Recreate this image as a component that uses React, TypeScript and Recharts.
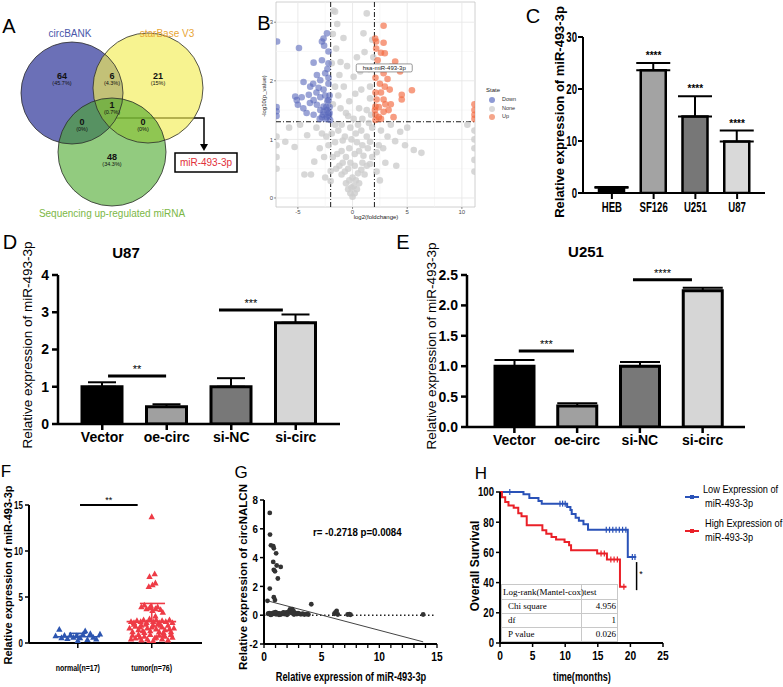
import React from 'react';
import {
  ComposedChart, Scatter, Bar, Line, XAxis, YAxis, ErrorBar, Cell,
  ReferenceLine, ReferenceArea, LabelList,
} from 'recharts';

const SANS = "'Liberation Sans', Arial, Helvetica, sans-serif";
const SERIF = "'Liberation Serif', 'Times New Roman', serif";

// ---------------- DATA ----------------
// A: Venn
const vennSetNames = ['circBANK', 'starBase V3', 'Sequencing up-regulated miRNA'];
const vennRegionCounts = [64, 6, 21, 1, 0, 0, 48];
const vennRegionPercents = ['(45.7%)', '(4.3%)', '(15%)', '(0.7%)', '(0%)', '(0%)', '(34.3%)'];
const vennTarget = 'miR-493-3p';

// B: volcano (log2 fold change, -log10 p)
const volDown: [number, number][] = [
  [-2.34, 2.81], [-2.65, 2.72], [-2.8, 2.67], [-2.6, 2.6], [-2.2, 2.5], [-4.9, 2.56], [-6.9, 2.67],
  [-3.56, 2.31], [-2.8, 2.35], [-2.2, 2.3], [-4.48, 1.98], [-3.26, 2.1], [-2.95, 2.01], [-2.5, 2.13],
  [-2.2, 2.05], [-3.87, 1.9], [-3.1, 1.88], [-2.65, 1.85], [-2.2, 1.95], [-5.24, 1.73], [-5.1, 1.67],
  [-4.65, 1.72], [-4.0, 1.76], [-3.56, 1.67], [-2.95, 1.72], [-2.5, 1.75], [-2.2, 1.67], [-5.0, 1.59],
  [-4.5, 1.53], [-3.26, 1.59], [-2.65, 1.56], [-2.35, 1.5], [-3.56, 1.42], [-2.95, 1.5], [-2.65, 1.47],
  [-2.2, 1.45], [-2.8, 1.38], [-2.35, 1.38], [-2.05, 1.33], [-4.2, 1.45], [-3.9, 1.62], [-3.3, 1.8],
  [-2.4, 1.55], [-2.15, 1.4], [-2.7, 1.42], [-2.45, 1.35], [-6.95, 1.55], [-6.95, 1.48], [-6.95, 1.4],
  [-3.0, 1.35], [-3.6, 1.95], [-2.3, 2.2], [-2.1, 1.75], [-2.1, 1.55], [-2.3, 1.65], [-2.1, 1.45],
];
const volUp: [number, number][] = [
  [2.84, 2.94], [2.07, 2.72], [2.16, 2.67], [2.84, 2.65], [2.16, 2.55], [2.6, 2.48], [2.95, 2.47],
  [3.9, 2.33], [3.5, 2.24], [4.35, 2.16], [2.84, 2.13], [2.1, 2.05], [3.2, 2.03], [2.5, 1.95],
  [2.95, 1.9], [5.43, 1.84], [4.5, 1.76], [4.5, 1.68], [2.1, 1.8], [2.84, 1.68], [2.2, 1.68],
  [2.1, 1.56], [3.5, 1.6], [2.4, 1.55], [3.3, 1.5], [2.84, 1.47], [2.1, 1.42], [2.4, 1.38],
  [3.75, 1.38], [2.1, 1.33], [2.05, 1.5], [2.6, 1.35], [3.0, 1.6], [3.4, 1.85], [11.15, 1.6],
  [11.15, 1.5], [11.15, 1.42], [11.15, 1.35], [2.3, 2.35], [2.6, 1.8],
];
const volNone: [number, number][] = [
  [0, 0.02], [-0.2, 0.08], [0.2, 0.08], [-0.4, 0.15], [0.4, 0.15], [-0.1, 0.18], [0.1, 0.2],
  [-0.6, 0.25], [0.6, 0.25], [-0.3, 0.3], [0.3, 0.3], [0, 0.35], [-1.0, 0.4], [-0.7, 0.45],
  [-0.4, 0.5], [0.5, 0.42], [0.8, 0.48], [1.1, 0.4], [-1.2, 0.55], [1.3, 0.55], [0.2, 0.55],
  [-0.2, 0.6], [-0.9, 0.6], [0.9, 0.6], [1.6, 0.58], [-1.5, 0.5], [-1.8, 0.7], [-1.4, 0.75],
  [-1.0, 0.8], [-0.6, 0.7], [-0.3, 0.85], [0.2, 0.75], [0.6, 0.8], [1.0, 0.72], [1.4, 0.85],
  [1.8, 0.7], [2.2, 0.78], [-2.2, 0.9], [-1.6, 0.95], [-0.9, 0.98], [0.4, 0.95], [0.9, 0.9],
  [1.6, 0.96], [2.4, 0.9], [-0.1, 1.0], [2.8, 0.85], [-2.4, 1.05], [-1.9, 1.1], [-1.3, 1.15],
  [-0.7, 1.05], [-0.2, 1.2], [0.3, 1.1], [0.8, 1.15], [1.3, 1.05], [1.8, 1.2], [-1.0, 1.25],
  [1.5, 1.28], [-1.6, 1.25], [0.5, 1.25], [2.6, 1.15], [3.2, 1.05], [-2.8, 1.1], [-6.15, 0.96],
  [-5.3, 0.87], [-4.15, 1.07], [-3.5, 0.62], [-4.4, 0.4], [-3.8, 0.4], [-2.0, 0.46], [-2.0, 0.29],
  [-3.0, 0.85], [-2.6, 0.7], [-3.3, 1.2], [-4.8, 1.25], [-5.8, 1.2], [4.36, 1.13], [5.6, 0.82],
  [6.3, 0.77], [3.9, 0.97], [3.0, 0.6], [4.0, 0.55], [4.8, 0.9], [3.5, 1.25], [5.0, 1.2],
  [2.2, 0.45], [2.5, 0.3], [-2.5, 0.35], [-6.95, 0.5], [-6.95, 0.7], [-6.95, 0.9], [-6.95, 1.05],
  [11.15, 0.45], [11.15, 0.65], [11.15, 0.85], [11.15, 1.0], [11.15, 1.15], [10.5, 1.25],
  [-1.74, 3.2], [-1.6, 3.18], [1.3, 3.15], [-1.4, 2.97], [-0.83, 2.73], [1.0, 2.81], [1.1, 2.49],
  [-1.5, 2.55], [-1.1, 2.32], [0.1, 2.07], [0.7, 2.16], [-0.8, 1.9], [0.25, 1.78], [-1.6, 1.9],
  [0.6, 1.53], [-1.1, 1.53], [1.3, 1.5], [-0.4, 1.4], [0.9, 1.35], [1.7, 1.42], [-1.8, 1.6],
  [1.6, 1.9], [-0.3, 1.65], [1.5, 2.2], [-1.2, 2.1], [0.4, 2.4], [-0.5, 2.25], [1.8, 2.7],
  [-1.8, 2.8], [1.6, 1.7], [-1.3, 1.75], [0.8, 1.85], [-0.6, 1.45], [0.1, 1.35], [1.9, 2.4],
  [-1.9, 2.3],
];
const volStates = ['Down', 'None', 'Up'];
const volHighlight = { name: 'hsa-miR-493-3p', x: 2.9, y: 2.22 };

// C: cell lines
const cCats = ['HEB', 'SF126', 'U251', 'U87'];
const cMeans = [1.0, 23.6, 14.7, 9.9];
const cErrs = [0.15, 1.4, 3.9, 2.1];
const cStars = ['', '****', '****', '****'];

// D: U87
const dCats = ['Vector', 'oe-circ', 'si-NC', 'si-circ'];
const dMeans = [1.0, 0.46, 1.0, 2.72];
const dErrs = [0.12, 0.07, 0.23, 0.22];
const dSigFrom = [0.59, 2.31];
const dSigTo = [1.49, 3.3];
const dSigY = [1.29, 3.06];
const dSigText = ['**', '***'];

// E: U251
const eCats = ['Vector', 'oe-circ', 'si-NC', 'si-circ'];
const eMeans = [1.0, 0.345, 1.0, 2.24];
const eErrs = [0.1, 0.045, 0.07, 0.05];
const eSigFrom = [0.57, 2.39];
const eSigTo = [1.45, 3.33];
const eSigY = [1.25, 2.42];
const eSigText = ['***', '****'];

// F: tissues
const fCats = ['normal(n=17)', 'tumor(n=76)'];
const fNormal: [number, number][] = [
  [0.70, 0.75], [0.75, 1.45], [0.78, 0.55], [0.82, 0.8], [0.86, 0.45], [0.90, 0.85], [0.94, 0.6],
  [0.98, 0.75], [1.00, 0.25], [1.03, 0.55], [1.07, 0.9], [1.10, 1.3], [1.13, 0.35], [1.17, 1.0],
  [1.21, 0.6], [1.25, 0.4], [1.30, 0.95],
];
const fTumor: [number, number][] = [
  [2.00, 13.7], [2.04, 7.5], [1.97, 7.2], [1.96, 6.1], [2.01, 6.3], [2.05, 6.5],
  [1.86, 3.9], [1.90, 4.1], [1.93, 3.7], [1.97, 3.8], [2.01, 3.5], [2.05, 3.7], [2.08, 3.9], [2.12, 3.6], [1.99, 4.0], [2.15, 3.3],
  [1.72, 2.3], [1.76, 2.2], [1.80, 2.4], [1.85, 2.3], [1.89, 2.5], [1.93, 2.2], [1.97, 2.6], [2.02, 2.3],
  [2.06, 2.5], [2.10, 2.2], [2.14, 2.4], [2.19, 2.3], [2.24, 2.5], [2.28, 2.2], [2.05, 2.9],
  [1.70, 1.6], [1.74, 1.2], [1.78, 1.8], [1.82, 1.4], [1.86, 1.9], [1.90, 1.1], [1.94, 1.6], [1.98, 1.3],
  [2.02, 1.9], [2.06, 1.5], [2.10, 1.2], [2.14, 1.7], [2.18, 1.4], [2.22, 1.9], [2.26, 1.2], [2.30, 1.6],
  [1.76, 2.0], [1.84, 1.7], [1.92, 2.0], [2.00, 1.7], [2.08, 2.0], [2.16, 1.1], [2.24, 1.5], [1.88, 1.3], [2.12, 1.9],
  [1.74, 0.8], [1.78, 0.5], [1.82, 0.9], [1.86, 0.3], [1.90, 0.7], [1.94, 0.4], [1.98, 0.9], [2.02, 0.2],
  [2.06, 0.6], [2.10, 0.8], [2.14, 0.4], [2.18, 0.7], [2.22, 0.3], [2.26, 0.9], [1.96, 0.1], [2.04, 0.5],
  [1.84, 0.6], [2.16, 0.9], [2.28, 0.6], [1.72, 0.4],
];
const fMean = [0.68, 2.32];
const fSD = [1.05, 4.3];

// G: correlation
const gPoints: [number, number][] = [
  [0.5, 7.1], [0.52, 5.6], [0.6, 4.85], [0.8, 4.8], [0.85, 4.65], [1.05, 4.3], [0.8, 3.7], [1.1, 3.45],
  [1.45, 3.35], [0.85, 3.15], [0.95, 3.05], [1.2, 2.55], [0.5, 1.85], [0.3, 1.0], [0.85, 1.25],
  [0.95, 1.05], [4.1, 0.76],
  [0.35, 0.1], [0.45, 0.15], [0.55, 0.05], [0.65, 0.12], [0.75, 0.08], [0.85, 0.18], [0.95, 0.1],
  [1.05, 0.06], [1.15, 0.14], [1.25, 0.09], [1.35, 0.12], [1.45, 0.05], [1.55, 0.1], [1.65, 0.16],
  [1.75, 0.08], [1.85, 0.12], [1.95, 0.2], [2.05, 0.1], [2.15, 0.25], [2.25, 0.4], [2.35, 0.35],
  [2.45, 0.42], [2.55, 0.3], [2.65, 0.18], [2.75, 0.12], [2.85, 0.08], [2.95, 0.15], [3.05, 0.1],
  [3.2, 0.06], [3.35, 0.1], [3.5, 0.05], [3.7, 0.08], [3.85, 0.05], [0.6, 0.02], [1.0, 0.22],
  [1.3, 0.03], [1.7, 0.2], [2.0, 0.03], [2.4, 0.15], [2.6, 0.05], [6.1, 0.1], [6.2, 0.2], [6.3, 0.3],
  [6.4, 0.05], [7.25, 0.05], [7.4, 0.08], [7.5, 0.03], [13.8, 0.05],
];
const gFit: [number, number][] = [[0.3, 1.0], [13.8, -1.85]];
const gStat = 'r= -0.2718  p=0.0084';

// H: survival
const hLowT = [0, 3.6, 4.5, 5.9, 6.4, 10.3, 10.8, 11.0, 11.6, 12.1, 12.8, 13.5, 19.6, 20.9];
const hLowV = [100, 98.5, 96, 94, 92.3, 90, 88, 85.5, 83, 81, 78.7, 75, 57, 57];
const hHighT = [0, 0.3, 0.8, 1.3, 2.1, 2.8, 3.3, 4.1, 6.5, 7.1, 7.9, 8.6, 9.9, 10.6, 10.9, 14.9, 16.4, 18.4, 19.4];
const hHighV = [100, 96.6, 93.4, 91, 89.5, 86, 84, 78, 74.6, 72.4, 70.2, 68.5, 66.9, 64.7, 61.5, 59.3, 55.3, 37.3, 37.3];
const hLowCensT = [1.5, 9.2, 9.6, 10.0, 16.3, 16.8, 17.3, 17.8, 18.3, 18.8, 19.3, 20.3, 20.7];
const hLowCensV = [100, 92.3, 92.3, 92.3, 75, 75, 75, 75, 75, 75, 75, 57, 57];
const hHighCensT = [15.5, 16.0, 17.0, 17.5, 18.0, 19.0];
const hHighCensV = [59.3, 59.3, 55.3, 55.3, 55.3, 37.3];
const hLegend = ['Low Expression of', 'High Expression of'];
const hTable: [string, string][] = [['Chi square', '4.956'], ['df', '1'], ['P value', '0.026']];

// ---------------- LAYOUT ----------------
const PL = 60, PT = 30, PR = 30, PB = 50;
type Box = [number, number, number, number];
function frame(b: Box) {
  const [x0, y0, x1, y1] = b;
  return {
    pos: { position: 'absolute' as const, left: x0 - PL, top: y0 - PT },
    width: x1 - x0 + PL + PR,
    height: y1 - y0 + PT + PB,
    margin: { top: PT, right: PR, bottom: 0, left: 0 },
  };
}
const B_BOX: Box = [276, 2, 475, 207];
const C_BOX: Box = [583, 37, 765, 193];
const D_BOX: Box = [58, 275, 340, 424];
const E_BOX: Box = [467, 275, 745, 427];
const F_BOX: Box = [29, 505, 202, 643];
const G_BOX: Box = [264, 500, 437, 644];
const H_BOX: Box = [500, 492, 663, 643];

const VENN_CX = [72, 148, 112];
const VENN_CY = [93, 88, 152];
const VENN_R = [51, 55, 54];
const VENN_FILL = ['#6b70b7', '#f2ec55', '#49a82a'];
const VENN_OP = [1, 0.65, 0.6];
const VENN_NAME_POS: [number, number][] = [[70, 33], [167, 33], [112, 213]];
const VENN_NAME_COLOR = ['#4b57aa', '#e8a535', '#7cb746'];
const VENN_REGION_POS: [number, number][] = [[62, 80], [112, 80], [158, 80], [112, 109], [82, 126], [143, 126], [112, 161]];

function Txt({ x, y, s, size = 12, w = 400, c = '#000', rot = 0, fam = SANS, a = 'middle', sx = 1 }: any) {
  const tx = a === 'middle' ? '-50%' : a === 'end' ? '-100%' : '0';
  const origin = a === 'middle' ? 'center' : a === 'end' ? 'right center' : 'left center';
  return (
    <div style={{
      position: 'absolute', left: x, top: y, transform: `translate(${tx},-50%) rotate(${rot}deg) scaleX(${sx})`,
      transformOrigin: origin,
      whiteSpace: 'nowrap', fontSize: size, fontWeight: w, color: c, fontFamily: fam, lineHeight: 1,
    }}>{s}</div>
  );
}

// condensed tick label renderer (GraphPad-like narrow bold)
function narrowTick(axis: 'x' | 'y', size: number, sx: number, fmt?: (v: any) => string) {
  return (p: any) => {
    const v = p.payload.value;
    const label = fmt ? fmt(v) : String(v);
    return (
      <g transform={`translate(${p.x},${p.y}) scale(${sx},1)`}>
        <text x={0} y={0} dy={axis === 'x' ? '0.75em' : '0.36em'} textAnchor={axis === 'x' ? 'middle' : 'end'}
          fontSize={size} fontWeight={700} fontFamily={SANS} fill="#000">{label}</text>
      </g>
    );
  };
}

// ---------------- A ----------------
function VennPanel() {
  const circles = vennSetNames.map((n, i) => ({ x: VENN_CX[i], y: VENN_CY[i], r: VENN_R[i], fill: VENN_FILL[i], op: VENN_OP[i] }));
  const regions = vennRegionCounts.map((c, i) => ({ x: VENN_REGION_POS[i][0], y: VENN_REGION_POS[i][1], c, p: vennRegionPercents[i] }));
  const names = vennSetNames.map((n, i) => ({ x: VENN_NAME_POS[i][0], y: VENN_NAME_POS[i][1], n, col: VENN_NAME_COLOR[i] }));
  const arrow = [{ x: 114, y: 118 }, { x: 204, y: 118 }, { x: 204, y: 146 }];
  return (
    <div style={{ position: 'absolute', left: 0, top: 0 }}>
      <ComposedChart width={260} height={225} margin={{ top: 0, right: 0, bottom: 0, left: 0 }}>
        <XAxis type="number" dataKey="x" domain={[0, 260]} hide />
        <YAxis type="number" dataKey="y" domain={[0, 225]} reversed hide />
        <Scatter data={circles} isAnimationActive={false}
          shape={(p: any) => <circle cx={p.cx} cy={p.cy} r={p.payload.r} fill={p.payload.fill} fillOpacity={p.payload.op} />} />
        <Scatter data={circles} isAnimationActive={false}
          shape={(p: any) => <circle cx={p.cx} cy={p.cy} r={p.payload.r} fill="none" stroke="#2b2b2b" strokeWidth={0.8} />} />
        <Scatter data={regions} isAnimationActive={false}
          shape={(p: any) => (
            <g>
              <text x={p.cx} y={p.cy - 1} textAnchor="middle" fontSize={9} fontWeight={700} fontFamily={SANS} fill="#111">{p.payload.c}</text>
              <text x={p.cx} y={p.cy + 5} textAnchor="middle" fontSize={5.5} fontFamily={SANS} fill="#111">{p.payload.p}</text>
            </g>
          )} />
        <Scatter data={names} isAnimationActive={false}
          shape={(p: any) => <text x={p.cx} y={p.cy + 4} textAnchor="middle" fontSize={10} fontFamily={SANS} fill={p.payload.col}>{p.payload.n}</text>} />
        <Line data={arrow} dataKey="y" type="linear" stroke="#000" strokeWidth={1.5} dot={false} isAnimationActive={false} />
        <Scatter data={[{ x: 204, y: 150 }]} isAnimationActive={false}
          shape={(p: any) => <path d={`M${p.cx - 4},${p.cy - 6} L${p.cx + 4},${p.cy - 6} L${p.cx},${p.cy + 1} Z`} fill="#000" />} />
        <Scatter data={[{ x: 206, y: 162.5, t: vennTarget }]} isAnimationActive={false}
          shape={(p: any) => (
            <g>
              <rect x={p.cx - 31} y={p.cy - 9.5} width={62} height={19} fill="#fff" stroke="#000" strokeWidth={1.5} />
              <text x={p.cx} y={p.cy + 3.5} textAnchor="middle" fontSize={10} fontFamily={SANS} fill="#e2303a">{p.payload.t}</text>
            </g>
          )} />
      </ComposedChart>
    </div>
  );
}

// ---------------- B ----------------
function VolcanoPanel() {
  const f = frame(B_BOX);
  const pts = (a: [number, number][]) => a.map(([x, y]) => ({ x, y }));
  const dot = (fill: string, op: number) => (p: any) => <circle cx={p.cx} cy={p.cy} r={3.3} fill={fill} fillOpacity={op} />;
  const dash = '5 2 1 2';
  return (
    <>
      <div style={f.pos}>
        <ComposedChart width={f.width} height={f.height} margin={f.margin}>
          <XAxis type="number" dataKey="x" domain={[-7.0, 11.2]} ticks={[-5, 0, 5, 10]} height={PB} allowDataOverflow
            axisLine={false} tickLine={{ stroke: '#444', strokeWidth: 0.6 }} tickSize={2} tickMargin={1}
            tick={{ fontSize: 6, fill: '#4d4d4d', fontFamily: SANS }} />
          <YAxis type="number" dataKey="y" domain={[-0.154, 3.345]} ticks={[0, 1, 2, 3]} width={PL} allowDataOverflow
            axisLine={false} tickLine={{ stroke: '#444', strokeWidth: 0.6 }} tickSize={2} tickMargin={1}
            tick={{ fontSize: 6, fill: '#4d4d4d', fontFamily: SANS }} />
          {[-2.5, 2.5, 7.5].map((v) => <ReferenceLine key={'mx' + v} x={v} stroke="#f3f3f3" strokeWidth={0.6} />)}
          {[0.5, 1.5, 2.5].map((v) => <ReferenceLine key={'my' + v} y={v} stroke="#f3f3f3" strokeWidth={0.6} />)}
          {[-5, 0, 5, 10].map((v) => <ReferenceLine key={'gx' + v} x={v} stroke="#e8e8e8" strokeWidth={0.9} />)}
          {[0, 1, 2, 3].map((v) => <ReferenceLine key={'gy' + v} y={v} stroke="#e8e8e8" strokeWidth={0.9} />)}
          <ReferenceArea x1={-7.0} x2={11.2} y1={-0.154} y2={3.345} fill="none" stroke="#c4c4c4" strokeWidth={0.8} />
          <Scatter data={pts(volNone)} shape={dot('#cdcdcd', 0.8)} isAnimationActive={false} />
          <Scatter data={pts(volDown)} shape={dot('#5868ba', 0.6)} isAnimationActive={false} />
          <Scatter data={pts(volUp)} shape={dot('#f2693f', 0.65)} isAnimationActive={false} />
          <ReferenceLine x={-2} stroke="#1a1a1a" strokeWidth={1} strokeDasharray={dash} />
          <ReferenceLine x={2} stroke="#1a1a1a" strokeWidth={1} strokeDasharray={dash} />
          <ReferenceLine y={1.301} stroke="#1a1a1a" strokeWidth={1} strokeDasharray={dash} />
          <Scatter data={[volHighlight]} isAnimationActive={false}
            shape={(p: any) => (
              <g>
                <rect x={p.cx - 28} y={p.cy - 4} width={56} height={8} rx={1.5} fill="#fff" stroke="#555" strokeWidth={0.6} />
                <text x={p.cx} y={p.cy + 2.2} textAnchor="middle" fontSize={6} fontFamily={SANS} fill="#222">{p.payload.name}</text>
              </g>
            )} />
        </ComposedChart>
      </div>
      <Txt x={264} y={96} s="-log10(p_value)" size={6} rot={-90} c="#222" />
      <Txt x={376} y={217} s="log2(foldchange)" size={6} c="#222" />
      <Txt x={486} y={90} s="State" size={6} a="start" c="#222" />
      {volStates.map((s, i) => (
        <React.Fragment key={s}>
          <div style={{ position: 'absolute', left: 489, top: 97 + i * 8.5, width: 6, height: 6, borderRadius: 3, background: ['#8e9ad4', '#d9d9d9', '#f5a58a'][i] }} />
          <Txt x={502} y={100 + i * 8.5} s={s} size={5.5} a="start" c="#333" />
        </React.Fragment>
      ))}
    </>
  );
}

// ---------------- generic bar panel ----------------
function BarPanel({ box, cats, means, errs, fills, stars, barSize, strokeW, axisW, capW, pad, yDomain, yTicks, xTick, yTick,
  ySize = 6, yMargin = 3, sigFrom, sigTo, sigY, sigText, sigFont }: any) {
  const f = frame(box);
  const data = cats.map((c: string, i: number) => ({
    name: c, v: means[i], e: [0, errs[i]], top: means[i] + errs[i], s: stars ? stars[i] : '', idx: i + 0.5,
  }));
  return (
    <div style={f.pos}>
      <ComposedChart width={f.width} height={f.height} margin={f.margin} data={data}>
        <XAxis dataKey="name" type="category" padding={{ left: pad[0], right: pad[1] }} height={PB} interval={0}
          axisLine={{ stroke: '#000', strokeWidth: axisW }} tickLine={{ stroke: '#000', strokeWidth: axisW }}
          tickSize={6} tickMargin={2} tick={xTick} />
        <XAxis xAxisId="n" type="number" dataKey="idx" domain={[0, 4]} hide allowDataOverflow padding={{ left: pad[0], right: pad[1] }} />
        <YAxis type="number" domain={yDomain} ticks={yTicks} width={PL} allowDataOverflow
          axisLine={{ stroke: '#000', strokeWidth: axisW }} tickLine={{ stroke: '#000', strokeWidth: axisW }}
          tickSize={ySize} tickMargin={yMargin} tick={yTick} />
        <Bar dataKey="v" barSize={barSize} stroke="#000" strokeWidth={strokeW} isAnimationActive={false}>
          {data.map((d: any, i: number) => <Cell key={i} fill={fills[i]} />)}
          <ErrorBar dataKey="e" width={capW} stroke="#000" strokeWidth={2} direction="y" />
        </Bar>
        {stars && (
          <Line dataKey="top" stroke="none" dot={false} activeDot={false} isAnimationActive={false}>
            <LabelList dataKey="s" position="top" offset={4} fontSize={10} fontWeight={700} fill="#000" fontFamily={SANS} />
          </Line>
        )}
        {sigFrom && sigFrom.map((a: number, i: number) => (
          <ReferenceLine key={i} xAxisId="n" segment={[{ x: a, y: sigY[i] }, { x: sigTo[i], y: sigY[i] }]}
            stroke="#000" strokeWidth={3}
            label={{ value: sigText[i], position: 'top', offset: 3, fontSize: sigFont, fill: '#000', fontFamily: SANS }} />
        ))}
      </ComposedChart>
    </div>
  );
}

function CellLinePanel() {
  return (
    <>
      <BarPanel box={C_BOX} cats={cCats} means={cMeans} errs={cErrs} stars={cStars}
        fills={['#000000', '#a3a3a3', '#777777', '#d9d9d9']} barSize={25} strokeW={2.5} axisW={2} capW={17}
        pad={[8, 7]} yDomain={[0, 30]} yTicks={[0, 10, 20, 30]} ySize={5} yMargin={1}
        xTick={narrowTick('x', 15, 0.64)} yTick={narrowTick('y', 15, 0.64)} />
      <Txt x={559} y={112} s="Relative expression of miR-493-3p" size={13} w={700} rot={-90} />
    </>
  );
}

const boldTick = { fontSize: 14, fontWeight: 700, fill: '#000', fontFamily: SANS };

function U87Panel() {
  return (
    <>
      <BarPanel box={D_BOX} cats={dCats} means={dMeans} errs={dErrs}
        fills={['#000000', '#a0a0a0', '#787878', '#d6d6d6']} barSize={40} strokeW={3} axisW={2.5} capW={14}
        pad={[12, 12]} yDomain={[0, 4]} yTicks={[0, 1, 2, 3, 4]}
        xTick={boldTick} yTick={boldTick}
        sigFrom={dSigFrom} sigTo={dSigTo} sigY={dSigY} sigText={dSigText} sigFont={11} />
      <Txt x={126} y={252} s="U87" size={15} w={700} />
      <Txt x={28} y={345} s="Relative expression of miR-493-3p" size={13.5} rot={-90} />
    </>
  );
}

function U251Panel() {
  return (
    <>
      <BarPanel box={E_BOX} cats={eCats} means={eMeans} errs={eErrs}
        fills={['#000000', '#a0a0a0', '#787878', '#d6d6d6']} barSize={39} strokeW={3} axisW={2.5} capW={20}
        pad={[16, 11]} yDomain={[0, 2.5]} yTicks={[0, 0.5, 1, 1.5, 2, 2.5]}
        xTick={boldTick} yTick={narrowTick('y', 14, 1, (v: number) => v.toFixed(1))}
        sigFrom={eSigFrom} sigTo={eSigTo} sigY={eSigY} sigText={eSigText} sigFont={11} />
      <Txt x={586} y={251} s="U251" size={15} w={700} />
      <Txt x={432} y={346} s="Relative expression of miR-493-3p" size={13.5} rot={-90} />
    </>
  );
}

// ---------------- F ----------------
function TissuePanel() {
  const f = frame(F_BOX);
  const tri = (col: string) => (p: any) => (
    <path d={`M${p.cx},${p.cy - 3.6} L${p.cx + 3.2},${p.cy + 2.2} L${p.cx - 3.2},${p.cy + 2.2} Z`} fill={col} />
  );
  const BLUE = '#2c55b0', RED = '#ee3b46';
  const seg = (x1: number, x2: number, y1: number, y2: number, col: string, k: string, w = 1.6) => (
    <ReferenceLine key={k} segment={[{ x: x1, y: y1 }, { x: x2, y: y2 }]} stroke={col} strokeWidth={w} />
  );
  return (
    <>
      <div style={f.pos}>
        <ComposedChart width={f.width} height={f.height} margin={f.margin}>
          <XAxis type="number" dataKey="x" domain={[0.34, 2.68]} ticks={[1, 2]} height={PB} allowDataOverflow
            axisLine={{ stroke: '#000', strokeWidth: 2 }} tickLine={{ stroke: '#000', strokeWidth: 1.5 }}
            tickSize={5} tickMargin={16} tick={narrowTick('x', 9.5, 0.74, (v: number) => fCats[v - 1])} />
          <YAxis type="number" dataKey="y" domain={[0, 15]} ticks={[0, 5, 10, 15]} width={PL} allowDataOverflow
            axisLine={{ stroke: '#000', strokeWidth: 2 }} tickLine={{ stroke: '#000', strokeWidth: 1.5 }}
            tickSize={4} tickMargin={2} tick={narrowTick('y', 10, 0.8)} />
          <Scatter data={fNormal.map(([x, y]) => ({ x, y }))} shape={tri(BLUE)} isAnimationActive={false} />
          <Scatter data={fTumor.map(([x, y]) => ({ x, y }))} shape={tri(RED)} isAnimationActive={false} />
          {seg(0.72, 1.3, fMean[0], fMean[0], BLUE, 'nm')}
          {seg(0.88, 1.12, fSD[0], fSD[0], BLUE, 'ns')}
          {seg(1.0, 1.0, fMean[0], fSD[0], BLUE, 'nv')}
          {seg(1.66, 2.33, fMean[1], fMean[1], RED, 'tm')}
          {seg(1.84, 2.18, fSD[1], fSD[1], RED, 'ts')}
          {seg(2.0, 2.0, fMean[1], fSD[1], RED, 'tv')}
          <ReferenceLine segment={[{ x: 1.03, y: 15 }, { x: 1.81, y: 15 }]} stroke="#000" strokeWidth={2}
            label={{ value: '**', position: 'top', offset: 2, fontSize: 9, fill: '#000', fontFamily: SANS }} />
        </ComposedChart>
      </div>
      <Txt x={8} y={575} s="Relative expression of miR-493-3p" size={11} w={700} rot={-90} />
    </>
  );
}

// ---------------- G ----------------
function CorrPanel() {
  const f = frame(G_BOX);
  const ticksX = Array.from({ length: 16 }, (_, i) => i);
  return (
    <>
      <div style={f.pos}>
        <ComposedChart width={f.width} height={f.height} margin={f.margin}>
          <XAxis type="number" dataKey="x" domain={[0, 15]} ticks={ticksX} height={PB} interval={0}
            axisLine={{ stroke: '#000', strokeWidth: 2 }} tickLine={{ stroke: '#000', strokeWidth: 1.3 }}
            tickSize={4} tickMargin={4}
            tick={narrowTick('x', 12, 0.85, (v: number) => (v % 5 === 0 ? String(v) : ''))} />
          <YAxis type="number" dataKey="y" domain={[-2, 8]} ticks={[-2, 0, 2, 4, 6, 8]} width={PL}
            axisLine={{ stroke: '#000', strokeWidth: 2 }} tickLine={{ stroke: '#000', strokeWidth: 1.5 }}
            tickSize={4} tickMargin={2} tick={narrowTick('y', 11.5, 0.85)} />
          <ReferenceLine segment={[{ x: 0, y: 0 }, { x: 14.8, y: 0 }]} stroke="#222" strokeWidth={1.5} strokeDasharray="1.5 2.5" />
          <Line data={gFit.map(([x, y]) => ({ x, y }))} dataKey="y" type="linear" stroke="#444" strokeWidth={1} dot={false} isAnimationActive={false} />
          <Scatter data={gPoints.map(([x, y]) => ({ x, y }))} isAnimationActive={false}
            shape={(p: any) => <circle cx={p.cx} cy={p.cy} r={2.4} fill="#333" />} />
        </ComposedChart>
      </div>
      <Txt x={313} y={533} s={gStat} size={11.5} w={700} a="start" sx={0.84} />
      <Txt x={244} y={577} s="Relative expression of circNALCN" size={11.5} w={700} rot={-90} />
      <Txt x={351} y={677} s="Relative expression of miR-493-3p" size={12} w={700} sx={0.77} />
    </>
  );
}

// ---------------- H ----------------
function SurvivalPanel() {
  const f = frame(H_BOX);
  const BLUE = '#2a52b8', RED = '#ea2028';
  const low = hLowT.map((t, i) => ({ t, v: hLowV[i] }));
  const high = hHighT.map((t, i) => ({ t, v: hHighV[i] }));
  const lowC = hLowCensT.map((t, i) => ({ t, v: hLowCensV[i] }));
  const highC = hHighCensT.map((t, i) => ({ t, v: hHighCensV[i] }));
  const cens = (col: string) => (p: any) => <line x1={p.cx} x2={p.cx} y1={p.cy - 3} y2={p.cy + 3} stroke={col} strokeWidth={1.2} />;
  const tbl = { left: 501, top: 584, width: 117, height: 58 };
  return (
    <>
      <div style={f.pos}>
        <ComposedChart width={f.width} height={f.height} margin={f.margin}>
          <XAxis type="number" dataKey="t" domain={[0, 25]} ticks={[0, 5, 10, 15, 20, 25]} height={PB}
            axisLine={{ stroke: '#000', strokeWidth: 2 }} tickLine={{ stroke: '#000', strokeWidth: 1.5 }}
            tickSize={4} tickMargin={4} tick={narrowTick('x', 12, 0.85)} />
          <YAxis type="number" dataKey="v" domain={[0, 100]} ticks={[0, 20, 40, 60, 80, 100]} width={PL}
            axisLine={{ stroke: '#000', strokeWidth: 2 }} tickLine={{ stroke: '#000', strokeWidth: 1.5 }}
            tickSize={4} tickMargin={2} tick={narrowTick('y', 12, 0.8)} />
          <Line data={low} dataKey="v" type="stepAfter" stroke={BLUE} strokeWidth={2} dot={false} isAnimationActive={false} />
          <Line data={high} dataKey="v" type="stepAfter" stroke={RED} strokeWidth={2} dot={false} isAnimationActive={false} />
          <Scatter data={lowC} shape={cens(BLUE)} isAnimationActive={false} />
          <Scatter data={highC} shape={cens(RED)} isAnimationActive={false} />
          <ReferenceLine segment={[{ x: 20.95, y: 35 }, { x: 20.95, y: 53.6 }]} stroke="#000" strokeWidth={1.5} />
        </ComposedChart>
      </div>
      <Txt x={641} y={574} s="*" size={9} />
      <Txt x={475} y={566} s="Overall Survival" size={12} w={700} rot={-90} />
      <Txt x={582} y={677} s="time(months)" size={12} w={700} sx={0.76} />
      {/* table */}
      <div style={{ position: 'absolute', ...tbl, border: '1px solid #c8c8c8', boxSizing: 'border-box', background: 'rgba(255,255,255,0.6)' }} />
      <div style={{ position: 'absolute', left: 581, top: tbl.top, width: 1, height: tbl.height, background: '#c8c8c8' }} />
      {[599, 613, 627].map((y) => <div key={y} style={{ position: 'absolute', left: tbl.left, top: y, width: tbl.width, height: 1, background: '#c8c8c8' }} />)}
      <Txt x={503} y={592} s="Log-rank(Mantel-cox)test" size={9} a="start" fam={SERIF} />
      {hTable.map(([k, v], i) => (
        <React.Fragment key={k}>
          <Txt x={508} y={606 + i * 14} s={k} size={9} a="start" fam={SERIF} />
          <Txt x={616} y={606 + i * 14} s={v} size={9} a="end" fam={SERIF} />
        </React.Fragment>
      ))}
      {/* legend */}
      {hLegend.map((s, i) => {
        const col = i === 0 ? BLUE : RED;
        const y0 = i === 0 ? 497 : 531;
        return (
          <React.Fragment key={s}>
            <div style={{ position: 'absolute', left: 685, top: y0 - 1, width: 14, height: 2, background: col }} />
            <div style={{ position: 'absolute', left: 690, top: y0 - 2.5, width: 4, height: 4, background: col }} />
            <Txt x={i === 0 ? 703 : 705} y={y0 - 7} s={s} size={11.5} a="start" sx={0.8} />
            <Txt x={705} y={y0 + 7} s="miR-493-3p" size={11.5} a="start" sx={0.8} />
          </React.Fragment>
        );
      })}
    </>
  );
}

export default function App() {
  return (
    <div style={{ position: 'absolute', left: 0, top: 0, width: 783, height: 687, background: '#fff', overflow: 'hidden', fontFamily: SANS }}>
      <VennPanel />
      <VolcanoPanel />
      <CellLinePanel />
      <U87Panel />
      <U251Panel />
      <TissuePanel />
      <CorrPanel />
      <SurvivalPanel />
      <Txt x={9} y={26} s="A" size={20} />
      <Txt x={264} y={23} s="B" size={20} />
      <Txt x={533} y={16} s="C" size={20} />
      <Txt x={10} y={242} s="D" size={20} />
      <Txt x={403} y={242} s="E" size={20} />
      <Txt x={6} y={471} s="F" size={17} />
      <Txt x={241} y={472} s="G" size={17} />
      <Txt x={481} y={473} s="H" size={17} />
    </div>
  );
}
